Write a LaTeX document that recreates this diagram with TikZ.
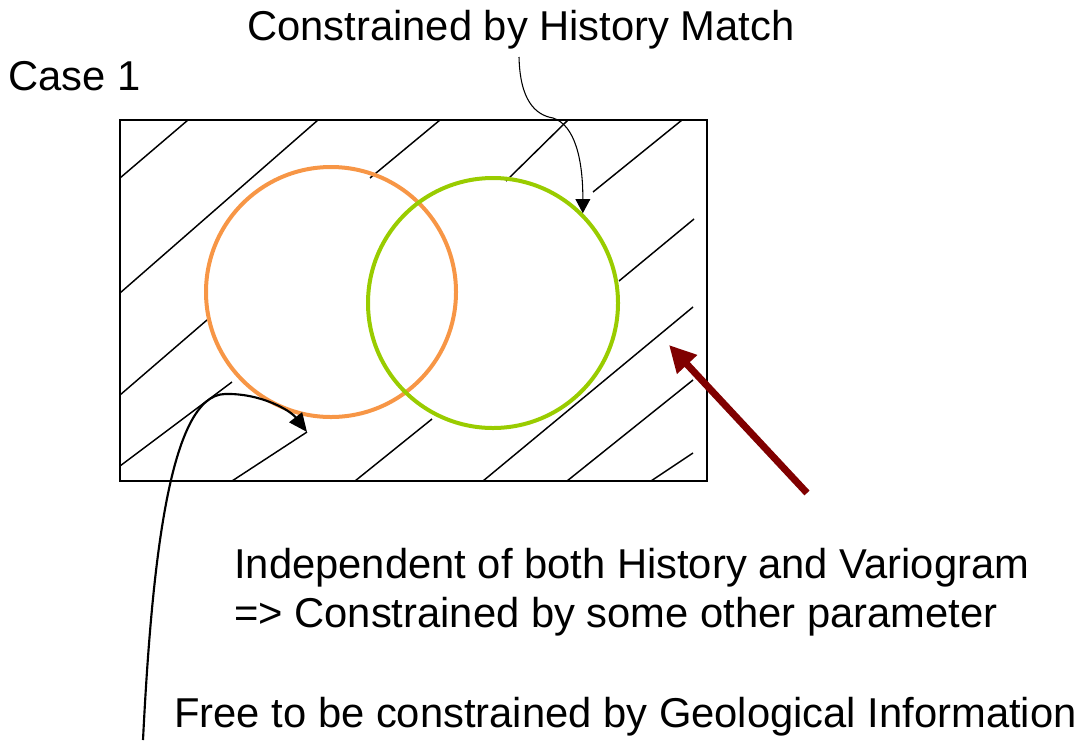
\documentclass[tikz,border=0pt]{standalone}
\usepackage{fontspec}
\setmainfont{Liberation Sans}
\usetikzlibrary{arrows.meta}
\definecolor{ringorange}{RGB}{247,150,70}
\definecolor{ringgreen}{RGB}{153,204,0}
\definecolor{darkarrow}{RGB}{128,0,0}

\begin{document}
\begin{tikzpicture}[x=0.75pt,y=-0.75pt,
    lbl/.style={font=\fontsize{31.3}{36.75}\selectfont, inner sep=0pt, anchor=base west},
    ring/.style={circle, draw, line width=3pt, minimum size=187.5pt, inner sep=0pt},
    hatch/.style={line width=1.1pt},
    pointer/.style={-{Triangle[length=10.5pt,width=11pt]}, line width=0.8pt}]
  \useasboundingbox (0,0) rectangle (1077,740);
  % labels
  \node[lbl] (caselbl) at (8,90) {Case 1};
  \node[lbl] (histlbl) at (247,40) {Constrained by History Match};
  \node[lbl] (indeplbl) at (234,578) {Independent of both History and Variogram};
  \node[lbl] (otherlbl) at (234,627) {=> Constrained by some other parameter};
  \node[lbl] (geollbl) at (174,727) {Free to be constrained by Geological Information};
  % frame and hatching
  \draw[line width=1.6pt] (120,120) rectangle (707,481);
  \foreach \xa/\ya/\xb/\yb in {120/178/188/120, 120/293/318/120, 370/178/440/120,
      506/181/568/120, 593/192/682/120, 619/281/694/219, 483/481/693/307,
      567/481/693/380, 651/481/693/453, 120/395/207/320, 120/466/232/382,
      232/481/307/432, 355/481/432/419}
    \draw[hatch] (\xa,\ya) -- (\xb,\yb);
  % the two sets
  \node[ring, draw=ringorange] (orange) at (331,292) {};
  \node[ring, draw=ringgreen] (green) at (493,303) {};
  % arrows
  \coordinate (histfoot) at (519,57);
  \draw[pointer] (histfoot) .. controls (520,100) and (535,115) .. (553,118)
    .. controls (575,125) and (583,160) .. (green.45);
  \coordinate (geolfoot) at (143,740);
  \coordinate (geoltip) at (307,432);
  \draw[-{Triangle[length=14pt,width=12pt]}, line width=1.6pt] (geolfoot)
    .. controls (152,560) and (170,395) .. (225,394)
    .. controls (260,393) and (290,410) .. (geoltip);
  \coordinate (indepfoot) at (807,493);
  \coordinate (indeptip) at (669,345);
  \draw[-{Triangle[length=20pt,width=19.5pt]}, line width=5.25pt, darkarrow] (indepfoot) -- (indeptip);
\end{tikzpicture}
\end{document}
